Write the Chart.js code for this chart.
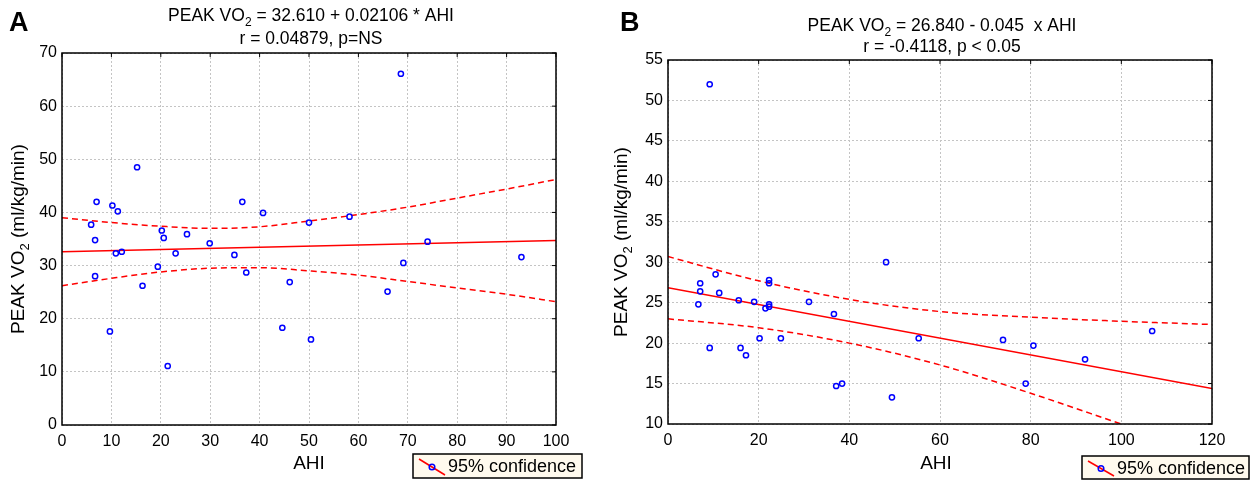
<!DOCTYPE html>
<html>
<head>
<meta charset="utf-8">
<script src="https://cdn.jsdelivr.net/npm/chart.js@4.4.0/dist/chart.umd.min.js"></script>
<style>
  html, body { margin: 0; padding: 0; background: #fff; overflow: hidden; }
  .panel { position: absolute; top: 0; height: 481px; }
  #panelA { left: 0; width: 600px; }
  #panelB { left: 600px; width: 650px; }
</style>
</head>
<body>
<div class="panel" id="panelA"><canvas id="chartA"></canvas></div>
<div class="panel" id="panelB"><canvas id="chartB"></canvas></div>
<script>
// ---- panel A data (AHI vs peak VO2) ----
const ahiA = [5.9, 6.7, 6.7, 7.0, 9.7, 10.2, 10.9, 11.3, 12.1, 15.2, 16.3, 19.4, 20.2, 20.6, 21.4, 23.0,
  25.3, 29.9, 34.9, 36.5, 37.3, 40.7, 44.6, 46.1, 50.0, 50.4, 58.2, 65.9, 68.6, 69.1, 74.0, 93.0];
const vo2A = [37.7, 34.8, 28.0, 42.0, 17.6, 41.3, 32.3, 40.2, 32.6, 48.5, 26.2, 29.8, 36.6, 35.2, 11.1, 32.3,
  35.9, 34.2, 32.0, 42.0, 28.7, 39.9, 18.3, 26.9, 38.1, 16.1, 39.2, 25.1, 66.1, 30.5, 34.5, 31.6];
const fitXA = [0, 100];
const fitYA = [32.61, 34.72];
const bandXA = [0, 10, 20, 30, 40, 50, 60, 70, 80, 90, 100];
const upperA = [39.0, 38.1, 37.4, 37.0, 37.3, 38.4, 39.6, 41.0, 42.7, 44.4, 46.2];
const lowerA = [26.2, 27.6, 28.8, 29.5, 29.6, 29.0, 28.2, 27.0, 25.8, 24.6, 23.2];

// ---- panel B data ----
const ahiB = [6.7, 7.1, 7.1, 9.2, 9.2, 10.5, 11.3, 15.6, 16.0, 17.2, 19.0, 20.2, 21.5, 22.3, 22.3, 22.3,
  22.3, 24.9, 31.1, 36.6, 37.1, 38.4, 48.1, 49.4, 55.3, 73.9, 78.9, 80.6, 92.0, 106.8];
const vo2B = [24.8, 27.4, 26.4, 52.0, 19.4, 28.5, 26.2, 25.3, 19.4, 18.5, 25.1, 20.6, 24.3, 27.8, 27.4, 24.8,
  24.5, 20.6, 25.1, 23.6, 14.7, 15.0, 30.0, 13.3, 20.6, 20.4, 15.0, 19.7, 18.0, 21.5];
const fitXB = [0, 120];
const fitYB = [26.84, 14.4];
const bandXB = [0, 20, 40, 60, 80, 100, 120];
const upperB = [30.7, 27.7, 25.4, 23.9, 23.2, 22.7, 22.3];
const lowerB = [23.0, 21.9, 20.0, 17.3, 13.8, 10.0, null];

const FONT = "'Liberation Sans', Arial, Helvetica, sans-serif";
const RED = '#ff0000';
const BLUE = '#0000ff';

function pts(xs, ys) {
  return xs.map((x, i) => ({ x: x, y: ys[i] })).filter(p => p.y !== null);
}

// draw a string made of parts, some of them subscripts
function richText(ctx, parts, x, y, size, align) {
  const subSize = Math.round(size * 0.7);
  let w = 0;
  parts.forEach(p => {
    ctx.font = (p.sub ? subSize : size) + 'px ' + FONT;
    p.w = ctx.measureText(p.t).width;
    w += p.w;
  });
  let cx = align === 'center' ? x - w / 2 : x;
  ctx.textAlign = 'left';
  ctx.textBaseline = 'alphabetic';
  parts.forEach(p => {
    ctx.font = (p.sub ? subSize : size) + 'px ' + FONT;
    ctx.fillText(p.t, cx, p.sub ? y + size * 0.28 : y);
    cx += p.w;
  });
}

const decor = {
  id: 'decor',
  afterDraw(chart, args, o) {
    const ctx = chart.ctx;
    const a = chart.chartArea;
    const sx = chart.scales.x, sy = chart.scales.y;
    ctx.save();
    ctx.fillStyle = '#000';

    // frame and inward ticks on top/right
    ctx.strokeStyle = '#000';
    ctx.lineWidth = 1.5;
    ctx.strokeRect(a.left, a.top, a.right - a.left, a.bottom - a.top);
    ctx.lineWidth = 1;
    ctx.beginPath();
    sx.ticks.forEach(t => {
      const px = sx.getPixelForValue(t.value);
      ctx.moveTo(px, a.top); ctx.lineTo(px, a.top + 4);
    });
    sy.ticks.forEach(t => {
      const py = sy.getPixelForValue(t.value);
      ctx.moveTo(a.right, py); ctx.lineTo(a.right - 4, py);
    });
    ctx.stroke();

    // panel letter
    ctx.font = 'bold 27px ' + FONT;
    ctx.textAlign = 'left';
    ctx.textBaseline = 'alphabetic';
    ctx.fillText(o.letter, o.letterX, 31);

    // titles
    const mid = (a.left + a.right) / 2;
    richText(ctx, o.title1, mid + o.titleShift, o.title1Y, 17.5, 'center');
    richText(ctx, [{ t: o.title2 }], mid + o.titleShift, o.title2Y, 17.5, 'center');

    // axis titles
    richText(ctx, [{ t: 'AHI' }], mid + o.xTitleShift, 469, 19, 'center');
    ctx.save();
    ctx.translate(o.yTitleX, (a.top + a.bottom) / 2);
    ctx.rotate(-Math.PI / 2);
    richText(ctx, [{ t: 'PEAK VO' }, { t: '2', sub: true }, { t: ' (ml/kg/min)' }], 0, 0, 19, 'center');
    ctx.restore();

    // legend box
    const L = o.legend;
    ctx.fillStyle = '#fffaee';
    ctx.fillRect(L.x, L.y, L.w, L.h);
    ctx.strokeStyle = '#000';
    ctx.lineWidth = 1.5;
    ctx.strokeRect(L.x, L.y, L.w, L.h);
    ctx.strokeStyle = RED;
    ctx.lineWidth = 1.5;
    ctx.beginPath();
    ctx.moveTo(L.x + 6, L.y + 5);
    ctx.lineTo(L.x + 32, L.y + L.h - 3);
    ctx.stroke();
    ctx.strokeStyle = BLUE;
    ctx.lineWidth = 1.5;
    ctx.beginPath();
    ctx.arc(L.x + 19, L.y + L.h / 2 + 1, 2.8, 0, Math.PI * 2);
    ctx.stroke();
    ctx.fillStyle = '#000';
    richText(ctx, [{ t: '95% confidence' }], L.x + 35, L.y + 18, 18, 'left');
    ctx.restore();
  }
};

function makeChart(id, d) {
  return new Chart(id, {
    type: 'scatter',
    data: {
      datasets: [
        {
          label: 'data',
          data: pts(d.xs, d.ys),
          borderColor: BLUE,
          backgroundColor: 'rgba(0,0,0,0)',
          borderWidth: 1.5,
          pointRadius: 2.6,
          pointHoverRadius: 2.6,
        },
        {
          label: 'fit',
          type: 'line',
          data: pts(d.fitX, d.fitY),
          borderColor: RED,
          borderWidth: 1.5,
          pointRadius: 0,
          fill: false,
        },
        {
          label: 'upper',
          type: 'line',
          data: pts(d.bandX, d.upper),
          borderColor: RED,
          borderWidth: 1.5,
          borderDash: [6, 4],
          pointRadius: 0,
          cubicInterpolationMode: 'monotone',
          fill: false,
        },
        {
          label: 'lower',
          type: 'line',
          data: pts(d.bandX, d.lower),
          borderColor: RED,
          borderWidth: 1.5,
          borderDash: [6, 4],
          pointRadius: 0,
          cubicInterpolationMode: 'monotone',
          fill: false,
        },
      ],
    },
    options: {
      responsive: true,
      maintainAspectRatio: false,
      animation: false,
      events: [],
      layout: { padding: d.padding },
      scales: {
        x: {
          type: 'linear',
          min: d.xMin, max: d.xMax,
          ticks: { stepSize: d.xStep, color: '#000', font: { family: FONT, size: 16 }, padding: 7 },
          grid: { color: '#c4c4c4', drawTicks: false, tickBorderDash: [2, 2] },
          border: { display: false, dash: [2, 2] },
          afterFit: s => { s.height = 56; s.paddingLeft = 0; s.paddingRight = 0; },
        },
        y: {
          min: d.yMin, max: d.yMax,
          ticks: { stepSize: d.yStep, color: '#000', font: { family: FONT, size: 16 }, padding: 5 },
          grid: { color: '#c4c4c4', drawTicks: false },
          border: { display: false, dash: [2, 2] },
          afterFit: s => { s.width = d.yAxisW; s.paddingTop = 0; s.paddingBottom = 0; },
        },
      },
      plugins: {
        legend: { display: false },
        tooltip: { enabled: false },
        decor: d.decor,
      },
    },
    plugins: [decor],
  });
}

const chartA = makeChart('chartA', {
  xs: ahiA, ys: vo2A, fitX: fitXA, fitY: fitYA, bandX: bandXA, upper: upperA, lower: lowerA,
  xMin: 0, xMax: 100, xStep: 10, yMin: 0, yMax: 70, yStep: 10,
  yAxisW: 62,
  padding: { left: 0, right: 44, top: 53, bottom: 0 },
  decor: {
    letter: 'A', letterX: 9,
    title1: [{ t: 'PEAK VO' }, { t: '2', sub: true }, { t: ' = 32.610 + 0.02106 * AHI' }],
    title2: 'r = 0.04879, p=NS',
    title1Y: 21, title2Y: 44, titleShift: 2,
    xTitleShift: 0, yTitleX: 24,
    legend: { x: 413, y: 454, w: 169, h: 24 },
  },
});

const chartB = makeChart('chartB', {
  xs: ahiB, ys: vo2B, fitX: fitXB, fitY: fitYB, bandX: bandXB, upper: upperB, lower: lowerB,
  xMin: 0, xMax: 120, xStep: 20, yMin: 10, yMax: 55, yStep: 5,
  yAxisW: 68,
  padding: { left: 0, right: 38, top: 60, bottom: 1 },
  decor: {
    letter: 'B', letterX: 20,
    title1: [{ t: 'PEAK VO' }, { t: '2', sub: true }, { t: ' = 26.840 - 0.045  x AHI' }],
    title2: 'r = -0.4118, p < 0.05',
    title1Y: 31, title2Y: 52, titleShift: 2,
    xTitleShift: -4, yTitleX: 27,
    legend: { x: 482, y: 456, w: 167, h: 23 },
  },
});
</script>
</body>
</html>
